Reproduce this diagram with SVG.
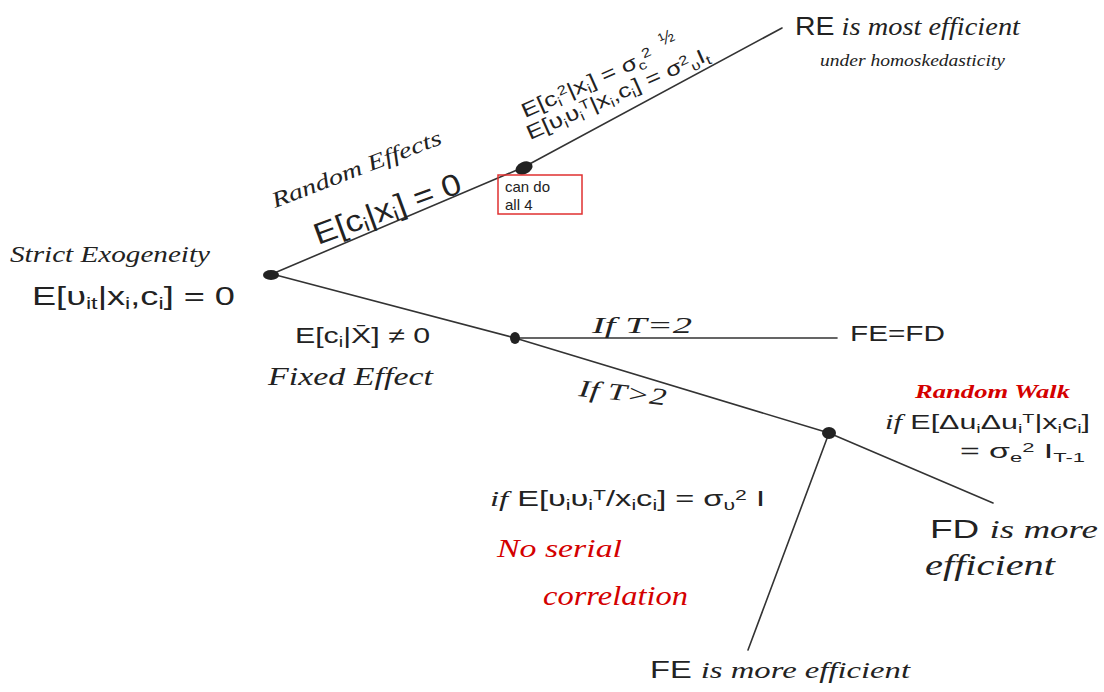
<svg xmlns="http://www.w3.org/2000/svg" width="1104" height="692" viewBox="0 0 1104 692">
<style>
.ln{stroke:#333;stroke-width:1.6;fill:none;stroke-linecap:round}
.dot{fill:#222}
.t{font-family:"Liberation Sans",Arial,sans-serif;fill:#222}
.c{font-family:"Liberation Serif","Times New Roman",serif;font-style:italic;fill:#222}
.r{font-family:"Liberation Serif","Times New Roman",serif;font-style:italic;fill:#d40000}
.sub{font-size:65%}
</style>
<rect width="1104" height="692" fill="#fff"/>
<g id="connectors">
<polyline class="ln" points="272,274 524,167 782,28"/>
<polyline class="ln" points="272,274 515,338 829,433 993,503"/>
<line class="ln" x1="515" y1="338" x2="837" y2="338"/>
<line class="ln" x1="829" y1="433" x2="748" y2="650"/>
</g>
<g id="root">
<ellipse class="dot" cx="271" cy="275" rx="8" ry="5"/>
<text class="c" x="10" y="262" font-size="24" textLength="200" lengthAdjust="spacingAndGlyphs">Strict Exogeneity</text>
<text class="t" x="32" y="305" font-size="26" textLength="203" lengthAdjust="spacingAndGlyphs">E[υ<tspan class="sub" dy="4">it</tspan><tspan dy="-4">|x</tspan><tspan class="sub" dy="4">i</tspan><tspan dy="-4">,c</tspan><tspan class="sub" dy="4">i</tspan><tspan dy="-4">] = 0</tspan></text>
</g>
<g id="random-effects">
<ellipse class="dot" cx="524" cy="168" rx="9" ry="6" transform="rotate(-25 524 168)"/>
<text class="c" transform="translate(275,208) rotate(-21)" font-size="22" textLength="180" lengthAdjust="spacingAndGlyphs">Random Effects</text>
<text class="t" transform="translate(318,245) rotate(-20)" font-size="30" textLength="155" lengthAdjust="spacingAndGlyphs">E[c<tspan class="sub" dy="4">i</tspan><tspan dy="-4">|x</tspan><tspan class="sub" dy="4">i</tspan><tspan dy="-4">] = 0</tspan></text>
<rect x="498" y="175" width="84" height="39" fill="none" stroke="#e03030" stroke-width="1.5"/>
<text class="t" x="505" y="192" font-size="15">can do</text>
<text class="t" x="505" y="210" font-size="15">all 4</text>
</g>
<g id="re-conditions">
<text class="t" transform="translate(525,118) rotate(-24)" font-size="20" textLength="142" lengthAdjust="spacingAndGlyphs">E[c<tspan class="sub" dy="4">i</tspan><tspan class="sub" dy="-10">2</tspan><tspan dy="6">|x</tspan><tspan class="sub" dy="4">i</tspan><tspan dy="-4">] = σ</tspan><tspan class="sub" dy="4">c</tspan><tspan class="sub" dy="-10">2</tspan></text>
<text class="t" transform="translate(662,46) rotate(-24)" font-size="18">½</text>
<text class="t" transform="translate(530,140) rotate(-24)" font-size="20" textLength="198" lengthAdjust="spacingAndGlyphs">E[υ<tspan class="sub" dy="4">i</tspan><tspan dy="-4">υ</tspan><tspan class="sub" dy="4">i</tspan><tspan class="sub" dy="-10">T</tspan><tspan dy="6">|x</tspan><tspan class="sub" dy="4">i</tspan><tspan dy="-4">,c</tspan><tspan class="sub" dy="4">i</tspan><tspan dy="-4">] = σ</tspan><tspan class="sub" dy="-6">2</tspan><tspan class="sub" dy="10">υ</tspan><tspan dy="-4">I</tspan><tspan class="sub" dy="4">t</tspan></text>
</g>
<g id="re-result">
<text class="c" x="795" y="35" font-size="26" textLength="225" lengthAdjust="spacingAndGlyphs"><tspan class="t" font-style="normal">RE</tspan> is most efficient</text>
<text class="c" x="820" y="66" font-size="17" textLength="185" lengthAdjust="spacingAndGlyphs">under homoskedasticity</text>
</g>
<g id="fixed-effects">
<ellipse class="dot" cx="515" cy="338" rx="5" ry="6"/>
<text class="t" x="295" y="343" font-size="22" textLength="135" lengthAdjust="spacingAndGlyphs">E[c<tspan class="sub" dy="4">i</tspan><tspan dy="-4">|X̄] ≠ 0</tspan></text>
<text class="c" x="268" y="385" font-size="25" textLength="165" lengthAdjust="spacingAndGlyphs">Fixed Effect</text>
<text class="c" x="592" y="333" font-size="24" textLength="100" lengthAdjust="spacingAndGlyphs">If T=2</text>
<text class="c" transform="translate(578,396) rotate(6)" font-size="24" textLength="88" lengthAdjust="spacingAndGlyphs">If T&gt;2</text>
</g>
<g id="fe-fd">
<text class="t" x="850" y="341" font-size="22" textLength="95" lengthAdjust="spacingAndGlyphs">FE=FD</text>
</g>
<g id="t-greater-2">
<ellipse class="dot" cx="829" cy="433" rx="7" ry="6"/>
<text class="r" x="915" y="398" font-size="19" font-weight="bold" textLength="155" lengthAdjust="spacingAndGlyphs">Random Walk</text>
<text class="t" x="885" y="429" font-size="20" textLength="205" lengthAdjust="spacingAndGlyphs"><tspan class="c">if</tspan> E[Δu<tspan class="sub" dy="4">i</tspan><tspan dy="-4">Δu</tspan><tspan class="sub" dy="4">i</tspan><tspan class="sub" dy="-10">T</tspan><tspan dy="6">|x</tspan><tspan class="sub" dy="4">i</tspan><tspan dy="-4">c</tspan><tspan class="sub" dy="4">i</tspan><tspan dy="-4">]</tspan></text>
<text class="t" x="960" y="458" font-size="20" textLength="125" lengthAdjust="spacingAndGlyphs">= σ<tspan class="sub" dy="4">e</tspan><tspan class="sub" dy="-10">2</tspan><tspan dy="6"> I</tspan><tspan class="sub" dy="4">T-1</tspan></text>
<text class="t" x="490" y="506" font-size="22" textLength="275" lengthAdjust="spacingAndGlyphs"><tspan class="c">if</tspan> E[υ<tspan class="sub" dy="4">i</tspan><tspan dy="-4">υ</tspan><tspan class="sub" dy="4">i</tspan><tspan class="sub" dy="-10">T</tspan><tspan dy="6">/x</tspan><tspan class="sub" dy="4">i</tspan><tspan dy="-4">c</tspan><tspan class="sub" dy="4">i</tspan><tspan dy="-4">] = σ</tspan><tspan class="sub" dy="4">υ</tspan><tspan class="sub" dy="-10">2</tspan><tspan dy="6"> I</tspan></text>
<text class="r" x="497" y="557" font-size="25" textLength="125" lengthAdjust="spacingAndGlyphs">No serial</text>
<text class="r" x="543" y="605" font-size="27" textLength="145" lengthAdjust="spacingAndGlyphs">correlation</text>
</g>
<g id="fd-result">
<text class="t" x="930" y="538" font-size="26" textLength="168" lengthAdjust="spacingAndGlyphs">FD <tspan class="c">is more</tspan></text>
<text class="c" x="925" y="575" font-size="30" textLength="130" lengthAdjust="spacingAndGlyphs">efficient</text>
</g>
<g id="fe-result">
<text class="t" x="650" y="678" font-size="24" textLength="260" lengthAdjust="spacingAndGlyphs">FE <tspan class="c">is more efficient</tspan></text>
</g>
</svg>
